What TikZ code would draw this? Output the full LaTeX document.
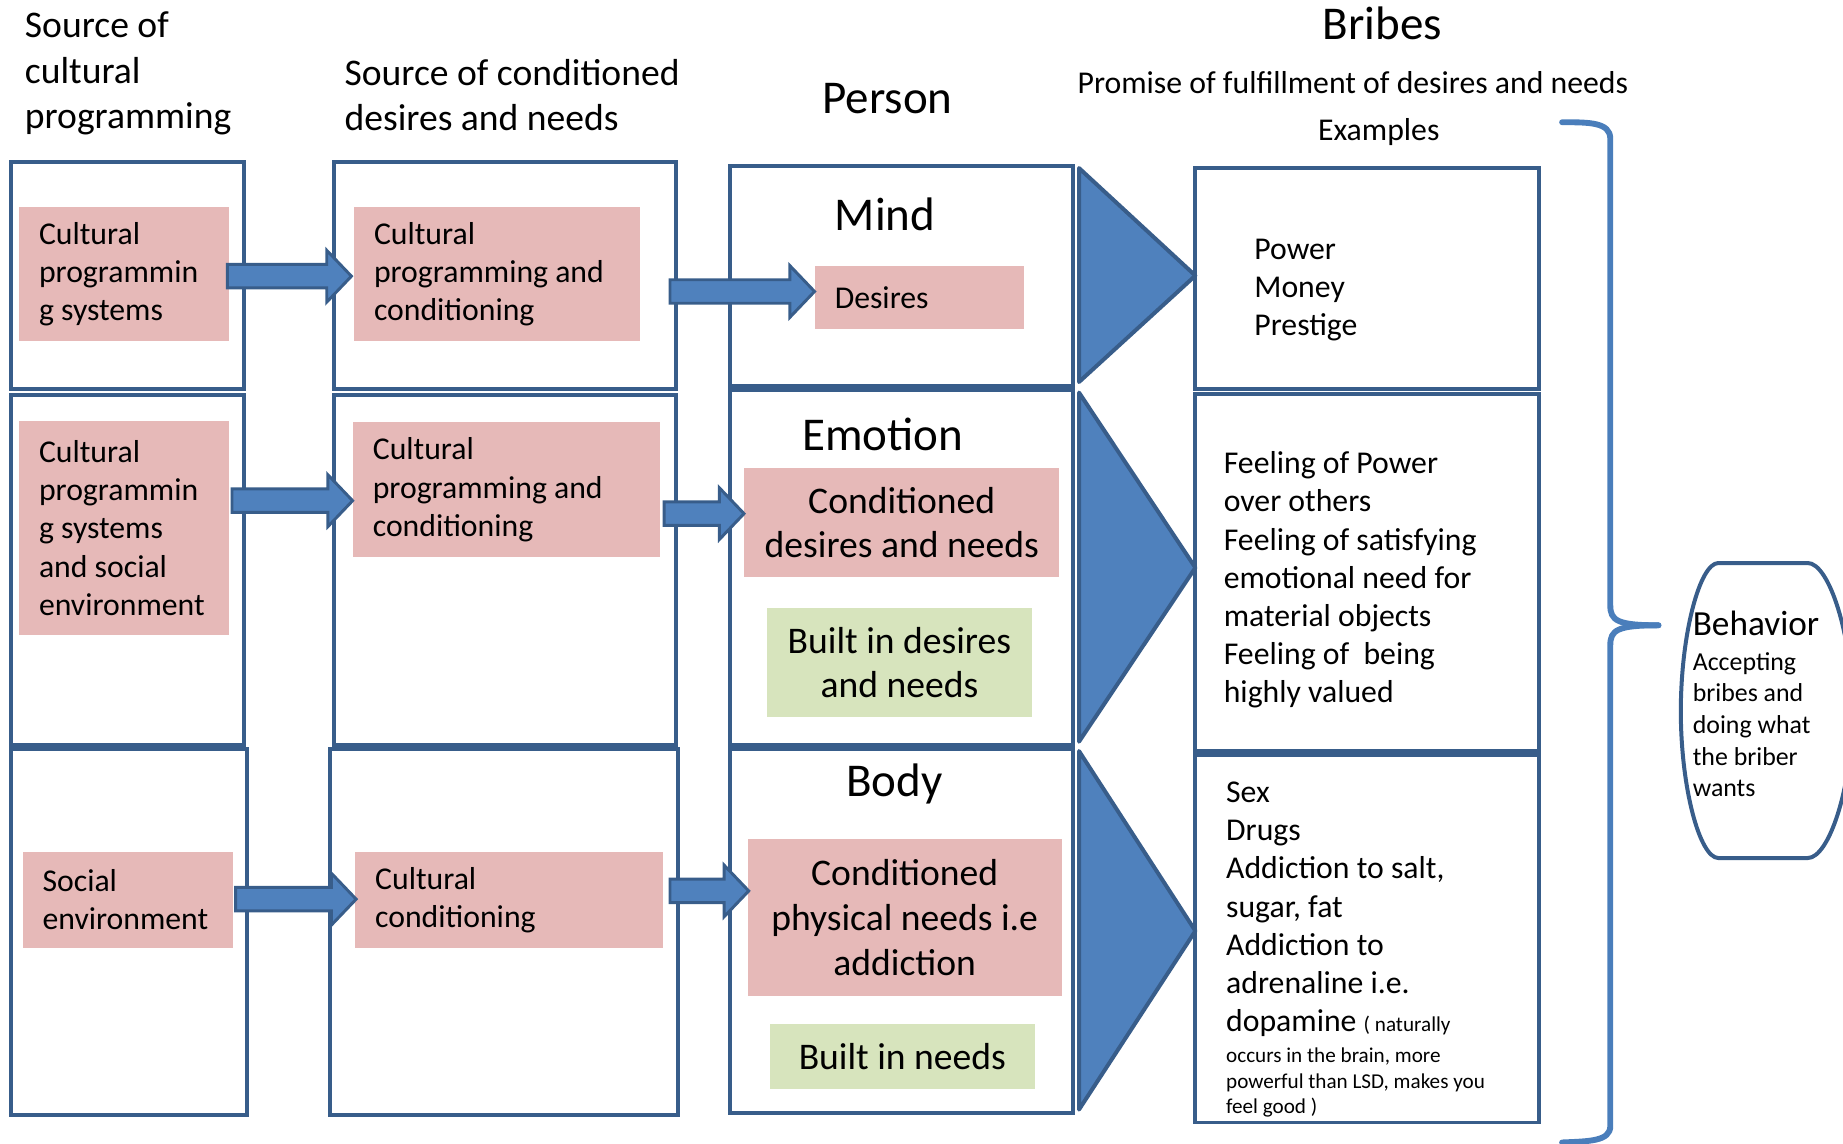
\documentclass[tikz,border=0pt]{standalone}
\usepackage{fontspec}
\setmainfont{Carlito}
\usetikzlibrary{calc}
\definecolor{bordc}{HTML}{385D8A}
\definecolor{arrc}{HTML}{4F81BD}
\definecolor{bracec}{HTML}{4A7EBB}
\definecolor{pinkc}{HTML}{E6B9B8}
\definecolor{greenc}{HTML}{D7E4BD}
\newcommand\fsz[2]{\fontsize{#1}{#2}\selectfont}
\newcommand\barrow[3]{\path[arrst] let \p1=#1, \p2=#2, \p3=(0,#3) in
  (\x1,\y3+10pt) -- (\x2-21pt,\y3+10pt) -- (\x2-21pt,\y3+22pt) -- (\x2,\y3)
  -- (\x2-21pt,\y3-22pt) -- (\x2-21pt,\y3-10pt) -- (\x1,\y3-10pt) -- cycle;}
\newcommand\chev[2]{\path[chevst] let \p1=(#1.north east), \p2=(#1.south east),
  \p3=(#1.east), \p4=(#2.west) in
  (\x1+5pt,\y1-2pt) -- (\x4,\y3) -- (\x2+5pt,\y2+3pt) -- cycle;}
\begin{document}
\begin{tikzpicture}[x=1pt,y=-1pt,
  obox/.style={draw=bordc, line width=3.4pt, rectangle, anchor=north west,
    inner sep=0pt, outer sep=0pt},
  pinkbox/.style={fill=pinkc, anchor=north west, inner xsep=17pt, inner ysep=0pt,
    align=flush left, font=\fsz{27}{32.5}},
  cbox/.style={anchor=north west, inner sep=0pt,
    align=center, font=\fsz{32}{38}},
  arrst/.style={fill=arrc, draw=bordc, line width=2.5pt, line join=miter},
  chevst/.style={fill=arrc, draw=bordc, line width=3.4pt, line join=round},
  txt/.style={anchor=north west, inner sep=0pt, align=left, font=\fsz{27}{32.5}},
  big/.style={inner sep=0pt, font=\fsz{40}{48}},
  head/.style={anchor=north west, inner sep=0pt, align=left, font=\fsz{32}{38.5}},
  mid/.style={inner sep=0pt, font=\fsz{27}{32.5}}
]
\useasboundingbox (0,0) rectangle (1568,973);

% outer boxes
\node[obox, minimum width=199pt, minimum height=193pt] (b11) at (9,138) {};
\node[obox, minimum width=199pt, minimum height=298pt] (b21) at (9,336) {};
\node[obox, minimum width=201pt, minimum height=312pt] (b31) at (9,637) {};
\node[obox, minimum width=291pt, minimum height=193pt] (b12) at (284,138) {};
\node[obox, minimum width=291pt, minimum height=298pt] (b22) at (284,336) {};
\node[obox, minimum width=296pt, minimum height=312pt] (b32) at (281,637) {};
\node[obox, minimum width=292pt, minimum height=187pt] (m1) at (621,141) {};
\node[obox, minimum width=292pt, minimum height=302pt] (m2) at (621,332) {};
\node[obox, minimum width=292pt, minimum height=310pt] (m3) at (621,637) {};
\node[obox, minimum width=292pt, minimum height=188pt] (e1) at (1017,143) {};
\node[obox, minimum width=292pt, minimum height=304pt] (e2) at (1017,335) {};
\node[obox, minimum width=292pt, minimum height=313pt] (e3) at (1017,642) {};

% headings
\node[head] (hd1) at (21,10) {Source of\\cultural\\programming};
\node[head] (hd2) at (293,50) {Source of conditioned\\desires and needs};
\node[big] (hperson) at (755,84) {Person};
\node[big] (hbribes) at (1176,20) {Bribes};
\node[mid] (hpromise) at (1151,70) {Promise of fulfillment of desires and needs};
\node[mid] (hexamples) at (1173,112) {Examples};
\node[big] (hmind) at (753,182) {Mind};
\node[big] (hemotion) at (751,370) {Emotion};
\node[big] (hbody) at (761,667) {Body};

% pink / green boxes
\node[pinkbox, text width=145pt, minimum height=114pt] (p11) at (16,176) {Cultural\\programmin\\g systems};
\node[pinkbox, text width=209pt, minimum height=114pt] (p12) at (301,176) {Cultural\\programming and\\conditioning};
\node[pinkbox, text width=144pt, minimum height=54pt] (pd) at (693,226) {Desires};
\node[pinkbox, text width=145pt, minimum height=182pt] (p21) at (16,358) {Cultural\\programmin\\g systems\\and social\\environment};
\node[pinkbox, text width=227pt, minimum height=115pt] (p22) at (300,359) {Cultural\\programming and\\conditioning};
\node[cbox, fill=pinkc, minimum width=268pt, minimum height=93pt] (pc2) at (633,398) {Conditioned\\desires and needs};
\node[cbox, fill=greenc, minimum width=226pt, minimum height=93pt] (g2) at (652,517) {Built in desires\\and needs};
\node[pinkbox, text width=145pt, minimum height=81pt] (p31) at (19,725) {Social\\environment};
\node[pinkbox, text width=228pt, minimum height=81pt] (p32) at (302,725) {Cultural\\conditioning};
\node[cbox, fill=pinkc, minimum width=267pt, minimum height=133pt] (pc3) at (636,714) {Conditioned\\physical needs i.e\\addiction};
\node[cbox, fill=greenc, minimum width=225pt, minimum height=55pt] (g3) at (655,871) {Built in needs};

% block arrows
\barrow{([xshift=-2pt]p11.east)}{([xshift=-2pt]p12.west)}{235}
\barrow{([xshift=-5pt]b12.east)}{(pd.west)}{248}
\barrow{([xshift=2pt]p21.east)}{(p22.west)}{426}
\barrow{([xshift=-10pt]b22.east)}{(pc2.west)}{437}
\barrow{([xshift=2pt]p31.east)}{([xshift=1pt]p32.west)}{765}
\barrow{([xshift=-7pt]b32.east)}{([xshift=1pt]pc3.west)}{758}

% chevrons
\chev{m1}{e1}
\chev{m2}{e2}
\chev{m3}{e3}

% examples text
\node[txt] (t1) at (1067,203) {Power\\Money\\Prestige};
\node[txt] (t2) at (1041,384) {Feeling of Power\\over others\\Feeling of satisfying\\emotional need for\\material objects\\Feeling of\ \ being\\highly valued};
\node[txt] (t3) at (1043,665) {Sex\\Drugs\\Addiction to salt,\\sugar, fat\\Addiction to\\adrenaline i.e.\\dopamine {\fsz{18}{22}( naturally}\\[-6.5pt]{\fsz{18}{22}occurs in the brain, more}\\[-10.5pt]{\fsz{18}{22}powerful than LSD, makes you}\\[-10.5pt]{\fsz{18}{22}feel good )}};

% brace
\draw[bracec, line width=5pt, line cap=round] (1329,104) .. controls (1352,104) and (1370,104) .. (1370,118) -- (1370,515) .. controls (1370,528) and (1376,532) .. (1411,532);
\draw[bracec, line width=5pt, line cap=round] (1411,532) .. controls (1376,532) and (1370,536) .. (1370,549) -- (1370,958) .. controls (1370,971) and (1352,971) .. (1329,972);

% behavior
\draw[bordc, line width=3.4pt] (1462,479) -- (1538,479) .. controls (1556,479) and (1576,540) .. (1576,605) .. controls (1576,670) and (1556,730) .. (1538,730) -- (1462,730) .. controls (1446,730) and (1430,670) .. (1430,605) .. controls (1430,540) and (1446,479) .. (1462,479) -- cycle;
\node[anchor=north west, inner sep=0pt, align=left, font=\fsz{22}{27}] (behav) at (1440,520) {{\fsz{30}{36}Behavior}\\[2pt]Accepting\\bribes and\\doing what\\the briber\\wants};
\end{tikzpicture}
\end{document}
